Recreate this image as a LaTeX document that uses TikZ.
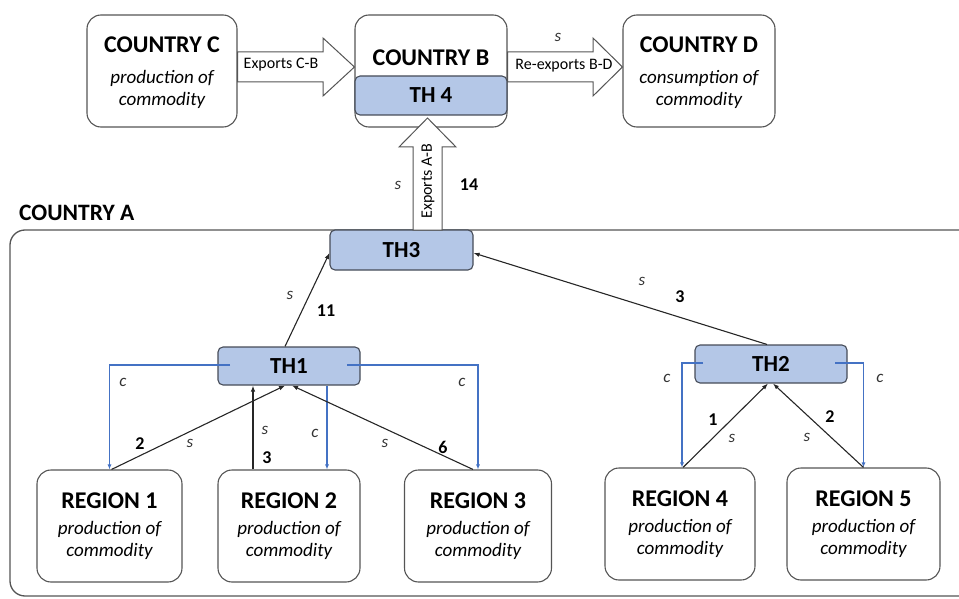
\documentclass[tikz,border=0pt]{standalone}
\usepackage{fontspec}
\setmainfont{Carlito}
\usetikzlibrary{calc,arrows.meta}
\definecolor{boxline}{RGB}{85,85,85}
\definecolor{thfill}{RGB}{180,199,231}
\definecolor{thline}{RGB}{70,76,88}
\definecolor{cblue}{RGB}{68,114,196}
\tikzset{
  bigbox/.style={draw=boxline,line width=1.1pt,rounded corners=14pt,fill=white,align=center,inner sep=0pt,font=\fontsize{19}{22}\selectfont\itshape},
  thbox/.style={draw=thline,line width=1.1pt,rounded corners=5pt,fill=thfill,inner sep=0pt,font=\fontsize{23}{26}\selectfont\bfseries},
  barrow/.style={draw=boxline,line width=1pt,fill=white,line join=miter},
  sarrow/.style={draw=black!85,line width=1.1pt,-{Latex[length=6pt,width=4.5pt]}},
  carrow/.style={draw=cblue,line width=1.1pt,-{Latex[length=5pt,width=4pt]}},
  lbl/.style={font=\fontsize{17}{19}\selectfont\itshape,text=black!80,inner sep=0pt},
  num/.style={font=\fontsize{18}{20}\selectfont\bfseries,inner sep=0pt},
  small/.style={font=\fontsize{16}{18}\selectfont,inner sep=0pt}
}
\newcommand{\ttl}[1]{{\fontsize{24}{26}\selectfont\upshape\bfseries #1}}
\begin{document}
\begin{tikzpicture}[x=1pt,y=-1pt]
\useasboundingbox (0,0) rectangle (959,599);
\clip (0,0) rectangle (959,599);
% Country A frame
\draw[draw=boxline,line width=1.3pt,rounded corners=15pt] (10,230) rectangle (975,596);
\node[font=\fontsize{23.5}{26}\selectfont\bfseries,anchor=west,inner sep=0pt] (lblA) at (19,213) {COUNTRY A};
% top boxes
\node[bigbox,minimum width=150pt,minimum height=112pt] (C) at (162,71) {};
\node[align=center,inner sep=0pt,font=\fontsize{19}{22}\selectfont\itshape] (Ct) at (162,73) {\ttl{COUNTRY C}\\[9pt]production of\\commodity};
\node[bigbox,minimum width=152pt,minimum height=112pt] (B) at (431,71) {};
\node[font=\fontsize{24}{26}\selectfont\bfseries,inner sep=0pt] (Bt) at (431,58) {COUNTRY B};
\node[thbox,minimum width=152pt,minimum height=39pt] (TH4) at (431,95.5) {TH 4};
\node[bigbox,minimum width=152pt,minimum height=112pt] (D) at (699,71) {};
\node[align=center,inner sep=0pt,font=\fontsize{19}{22}\selectfont\itshape] (Dt) at (699,73) {\ttl{COUNTRY D}\\[9pt]consumption of\\commodity};
% block arrows
\draw[barrow] (C.east |- 0,52) -- (323,52) -- (323,38) -- (B.west |- 0,67) -- (323,96) -- (323,82) -- (C.east |- 0,82) -- cycle;
\node[small] (eCB) at (281,65) {Exports C-B};
\draw[barrow] (B.east |- 0,52) -- (593,52) -- (593,38) -- (D.west |- 0,67) -- (593,96) -- (593,82) -- (B.east |- 0,82) -- cycle;
\node[small] (eBD) at (564,66) {Re-exports B-D};
\node[lbl] (sBD) at (558,37) {s};
% TH3
\node[thbox,minimum width=143pt,minimum height=40pt] (TH3) at (401.5,250) {TH3};
\draw[barrow] (413,230) -- (413,147) -- (399,147) -- (427.5,118) -- (456,147) -- (442,147) -- (442,230) -- cycle;
\node[small,rotate=90] (eAB) at (428,181) {Exports A-B};
\node[lbl] (sAB) at (398,185) {s};
\node[num] (nAB) at (469,185) {14};
% TH1, TH2
\node[thbox,minimum width=142pt,minimum height=38pt] (TH1) at (289,366) {TH1};
\node[thbox,minimum width=152pt,minimum height=38pt] (TH2) at (771,364) {TH2};
% regions
\node[bigbox,minimum width=145pt,minimum height=112pt] (R1) at (109.5,526) {\ttl{REGION 1}\\[4pt]production of\\commodity};
\node[bigbox,minimum width=142pt,minimum height=112pt] (R2) at (289,526) {\ttl{REGION 2}\\[4pt]production of\\commodity};
\node[bigbox,minimum width=147pt,minimum height=112pt] (R3) at (478,526) {\ttl{REGION 3}\\[4pt]production of\\commodity};
\node[bigbox,minimum width=150pt,minimum height=112pt] (R4) at (680,524) {\ttl{REGION 4}\\[4pt]production of\\commodity};
\node[bigbox,minimum width=153pt,minimum height=112pt] (R5) at (863.5,524) {\ttl{REGION 5}\\[4pt]production of\\commodity};
% TH1/TH2 -> TH3
\draw[sarrow] ($(TH1.north)+(-4,0)$) -- ($(TH3.west)+(0,3)$);
\node[lbl] (s13) at (290,295) {s};
\node[num] (n13) at (326,311) {11};
\draw[sarrow] ($(TH2.north)+(-4,0)$) -- ($(TH3.east)+(0,3)$);
\node[lbl] (s23) at (642,281) {s};
\node[num] (n23) at (680,297) {3};
% consumption c arrows (blue)
\draw[carrow] ($(TH1.center)+(-59,-1)$) -| (R1.north);
\draw[carrow] ($(TH1.center)+(58,-1)$) -| (R3.north);
\draw[carrow] ($(TH1.south)+(38,0)$) -- ($(R2.north)+(38,0)$);
\draw[carrow] ($(TH2.center)+(-68,-1)$) -| ($(R4.north)+(2,0)$);
\draw[carrow] ($(TH2.center)+(64,-1)$) -| (R5.north);
\node[lbl] (c1) at (123,382) {c};
\node[lbl] (c3) at (462,382) {c};
\node[lbl] (c2) at (315,433) {c};
\node[lbl] (c4) at (667,378) {c};
\node[lbl] (c5) at (880,378) {c};
% supply s arrows (black)
\draw[sarrow] ($(R1.north)+(2,0)$) -- ($(TH1.south)+(-4,0)$);
\draw[sarrow] ($(R2.north)+(-36,0)$) -- ($(TH1.south)+(-36,0)$);
\draw[sarrow] ($(R3.north)+(-5,0)$) -- ($(TH1.south)+(3,0)$);
\draw[sarrow] ($(R4.north)+(3,0)$) -- ($(TH2.south)+(-3,0)$);
\draw[sarrow] ($(R5.north)+(0,0)$) -- ($(TH2.south)+(2,0)$);
\node[num] (n1) at (140,444) {2};
\node[lbl] (s1) at (190,443) {s};
\node[lbl] (s2) at (265,430) {s};
\node[num] (n2) at (267,458) {3};
\node[lbl] (s3) at (385,443) {s};
\node[num] (n3) at (443,447) {6};
\node[num] (n4) at (713,420) {1};
\node[lbl] (s4) at (732,438) {s};
\node[num] (n5) at (830,417) {2};
\node[lbl] (s5) at (807,437) {s};
\end{tikzpicture}
\end{document}
